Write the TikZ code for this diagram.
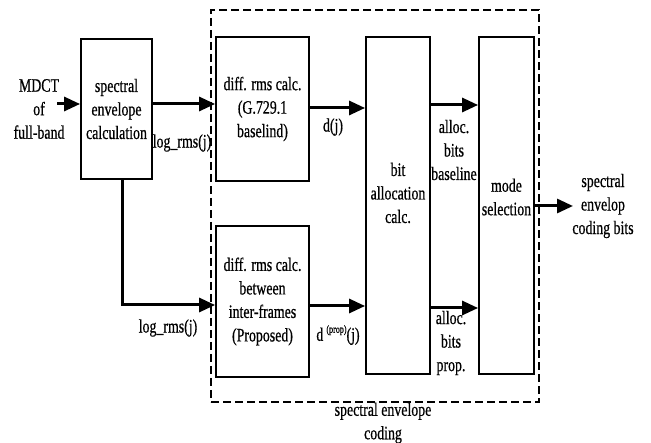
\documentclass[tikz,border=0pt]{standalone}
\usepackage{fontspec}
\setmainfont{Liberation Serif}[FakeStretch=0.73,FakeBold=0.6]
\usetikzlibrary{arrows.meta}
\begin{document}
\begin{tikzpicture}[x=1pt,y=-1pt,
  box/.style={draw, line width=1.8pt, align=center, inner sep=0pt},
  arr/.style={line width=3pt, -{Triangle[length=16pt,width=14pt]}},
  lbl/.style={align=center, inner sep=0pt},
  font=\fontsize{19}{23.5}\selectfont]
\useasboundingbox (0,0) rectangle (651,443);
% dashed group
\node[draw, line width=1.8pt, dash pattern=on 8pt off 4pt, minimum width=328pt, minimum height=392pt, inner sep=0pt] (grp) at (375,206) {};
% boxes
\node[box, minimum width=71pt, minimum height=140pt] (sec) at (116.5,109) {spectral\\envelope\\calculation};
\node[box, minimum width=93pt, minimum height=144pt] (top) at (262.5,109) {diff. rms calc.\\(G.729.1\\baselind)};
\node[box, minimum width=93pt, minimum height=151pt] (low) at (262.5,301.5) {diff. rms calc.\\between\\inter-frames\\(Proposed)};
\node[box, minimum width=64pt, minimum height=337pt] (bit) at (398,205.5) {};
\node[box, minimum width=55pt, minimum height=337pt] (mode) at (506.5,205.5) {};
\node[lbl] (bitt) at (398,193) {bit\\allocation\\calc.};
\node[lbl] (modet) at (506.5,197) {mode\\selection};
% labels
\node[lbl] (mdct) at (39,109) {MDCT\\of\\full-band};
\node[lbl] (log1) at (182,143) {log\_rms(j)};
\node[lbl] (dj) at (333,127) {d(j)};
\node[lbl] (ab) at (454,150) {alloc.\\bits\\baseline};
\node[lbl] (outl) at (603,206) {spectral\\envelop\\coding bits};
\node[lbl] (log2) at (168,328) {log\_rms(j)};
\node[lbl] (dp) at (338,335) {d\,\raisebox{8pt}{\fontsize{11}{11}\selectfont(prop)}(j)};
\node[lbl] (ap) at (451,343) {alloc.\\bits\\prop.};
\node[lbl] (grpl) at (383,423) {spectral envelope\\coding};
% connectors
\coordinate (in) at (57,104);
\coordinate (out) at (573,206);
\draw[arr] (in) -- (in -| sec.west);
\draw[arr] (sec.east |- 0,104) -- (top.west |- 0,104);
\draw[arr] (top.east |- 0,108) -- (bit.west |- 0,108);
\draw[arr] (bit.east |- 0,105) -- (mode.west |- 0,105);
\draw[arr] ([xshift=5.5pt]sec.south) |- (low.west |- 0,305);
\draw[arr] (low.east |- 0,306) -- (bit.west |- 0,306);
\draw[arr] (bit.east |- 0,308) -- (mode.west |- 0,308);
\draw[arr] (mode.east |- out) -- (out);
\end{tikzpicture}
\end{document}
